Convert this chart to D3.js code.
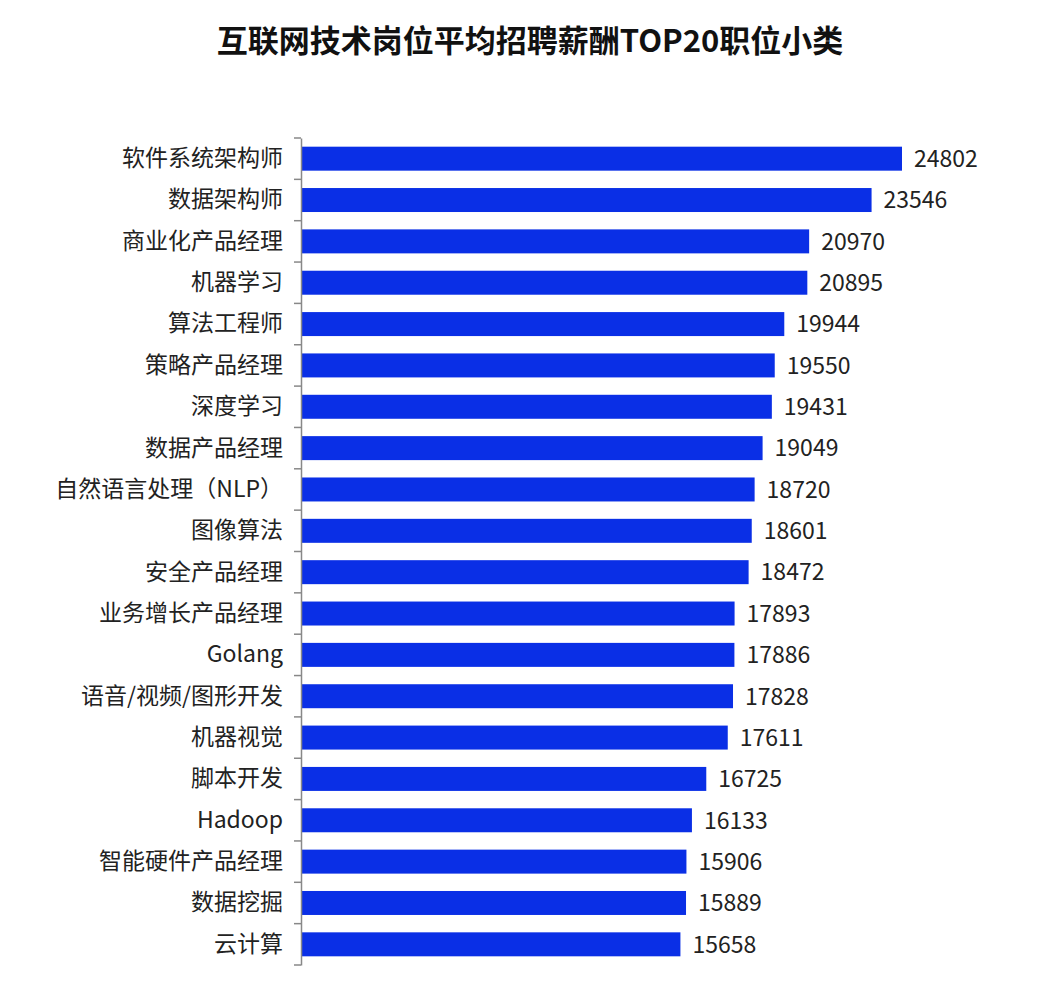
<!DOCTYPE html>
<html><head><meta charset="utf-8">
<script src="https://cdn.jsdelivr.net/npm/d3@7"></script>
<style>body{margin:0;background:#fff}</style></head>
<body><svg id="c" width="1038" height="996"></svg>
<script>
const title = "互联网技术岗位平均招聘薪酬TOP20职位小类";
const categories = ["软件系统架构师","数据架构师","商业化产品经理","机器学习","算法工程师","策略产品经理","深度学习","数据产品经理","自然语言处理（NLP）","图像算法","安全产品经理","业务增长产品经理","Golang","语音/视频/图形开发","机器视觉","脚本开发","Hadoop","智能硬件产品经理","数据挖掘","云计算"];
const values = [24802,23546,20970,20895,19944,19550,19431,19049,18720,18601,18472,17893,17886,17828,17611,16725,16133,15906,15889,15658];

const svg = d3.select("#c");
const font = "'Noto Sans CJK SC','Noto Sans',sans-serif";
svg.append("text").attr("x",530).attr("y",52).attr("text-anchor","middle")
  .attr("font-family",font).attr("font-weight","bold").attr("font-size",31).attr("fill","#111").text(title);

const x0 = 301;
const x = d3.scaleLinear().domain([0,24802]).range([x0,902]);
const y = d3.scaleBand().domain(categories).range([138,965]).paddingInner(0.42).paddingOuter(0.21);

svg.selectAll("rect.bar").data(values).enter().append("rect")
  .attr("x",x0).attr("y",(d,i)=>y(categories[i]))
  .attr("width",d=>x(d)-x0).attr("height",y.bandwidth()).attr("fill","#0a2fe6");

const g = svg.append("g").attr("transform",`translate(${x0},0)`);
const ax = d3.axisLeft(y).tickSize(0).tickPadding(18);
g.call(ax);
g.select(".domain").attr("stroke","#888").attr("stroke-width",1.5);
g.selectAll(".tick text").attr("font-family",font).attr("font-size",23).attr("fill","#222");
// boundary ticks
const step = y.step();
const bounds = d3.range(categories.length+1).map(i=>138+i*(827/categories.length));
g.selectAll("line.b").data(bounds).enter().append("line")
  .attr("x1",-7).attr("x2",0).attr("y1",d=>d).attr("y2",d=>d).attr("stroke","#888").attr("stroke-width",1.5);

svg.selectAll("text.v").data(values).enter().append("text")
  .attr("x",d=>x(d)+12).attr("y",(d,i)=>y(categories[i])+y.bandwidth()/2)
  .attr("dy","0.36em").attr("font-family",font).attr("font-size",23).attr("fill","#222").text(d=>d);
</script></body></html>
